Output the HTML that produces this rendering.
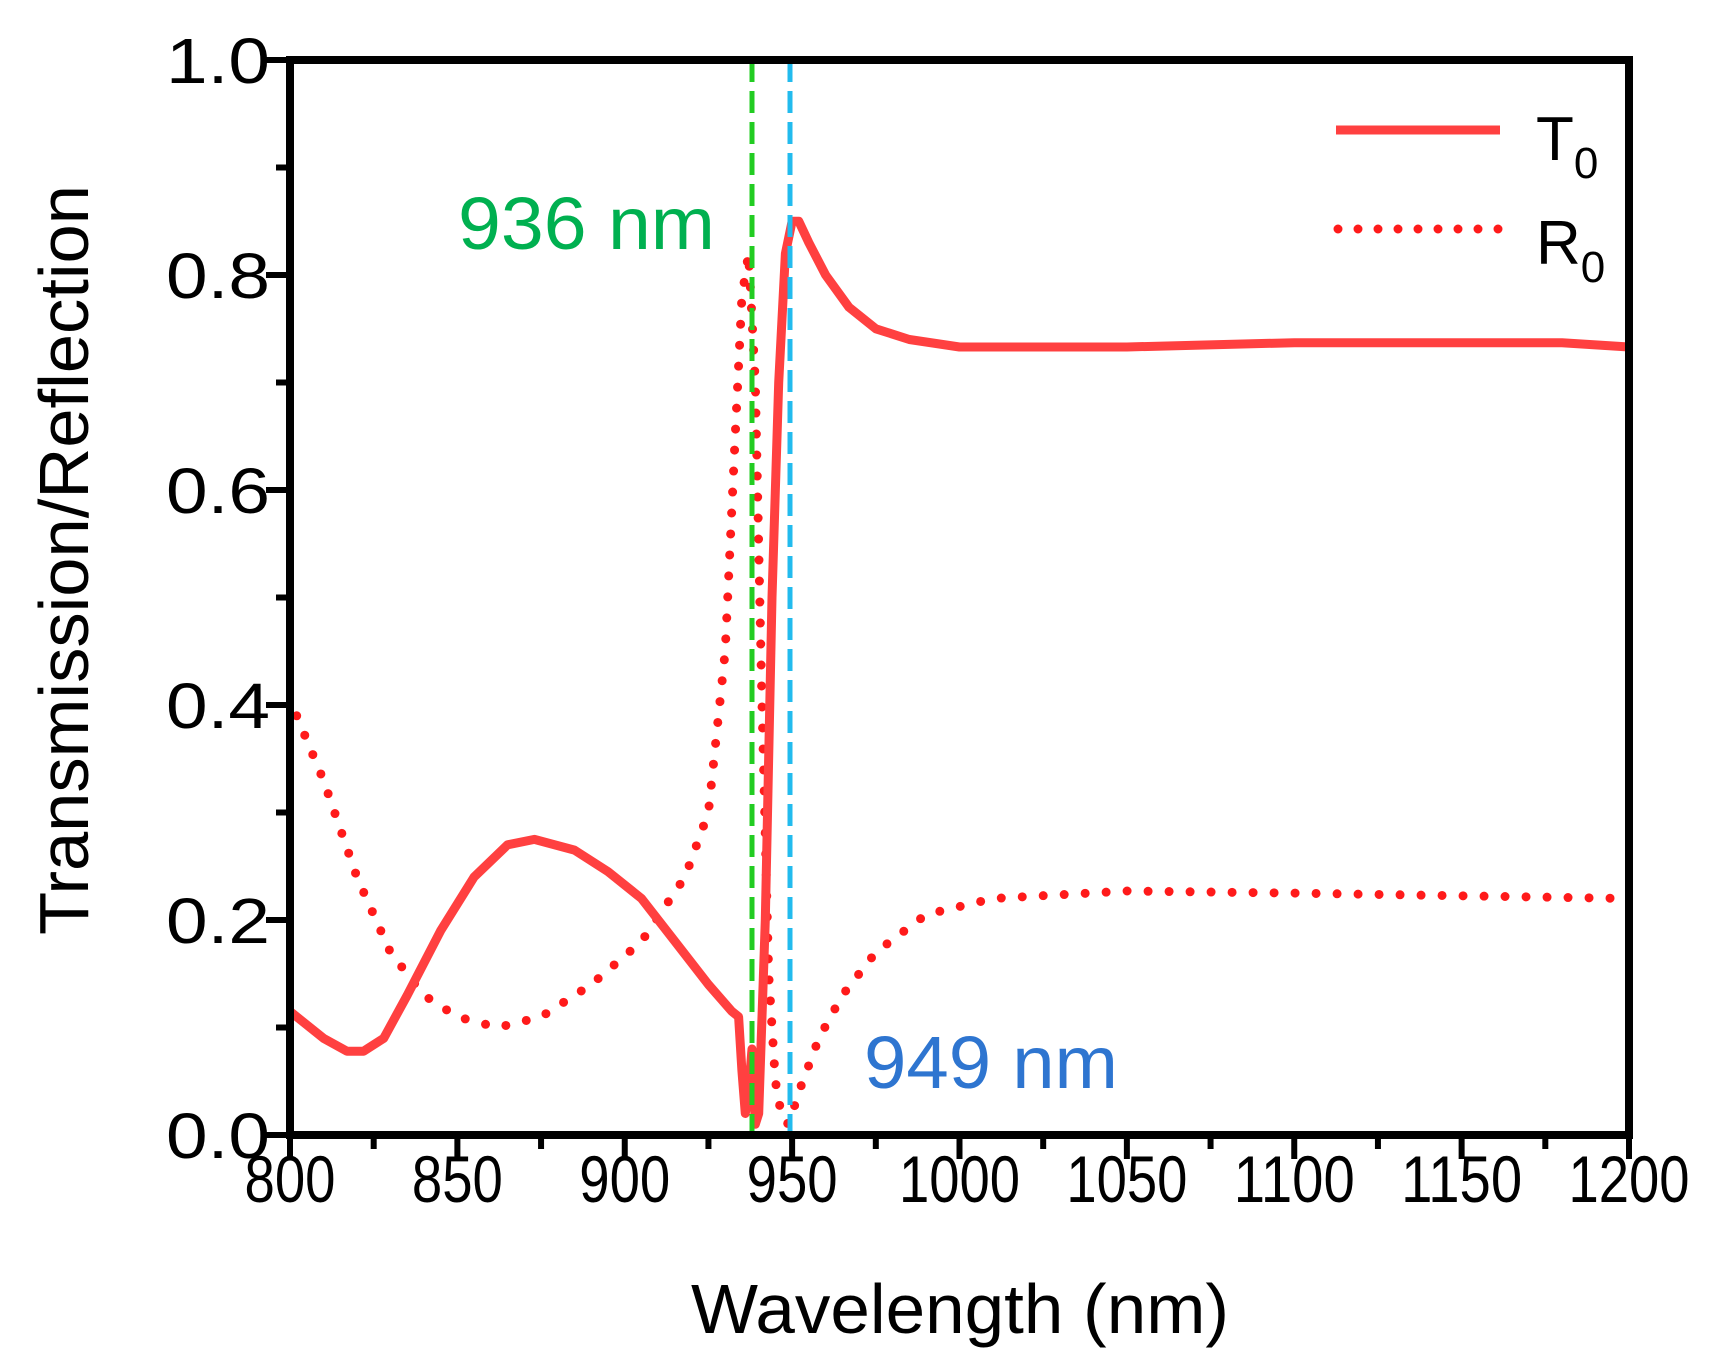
<!DOCTYPE html>
<html><head><meta charset="utf-8"><style>
html,body{margin:0;padding:0;background:#fff;}
svg{display:block;font-family:"Liberation Sans",Arial,sans-serif;}
</style></head><body>
<svg id="s" width="1722" height="1371" xmlns="http://www.w3.org/2000/svg">
<g id="plot"></g>
<g font-size="64" fill="#000" text-anchor="end">
<text x="270" y="1158" textLength="104" lengthAdjust="spacingAndGlyphs">0.0</text>
<text x="270" y="943" textLength="104" lengthAdjust="spacingAndGlyphs">0.2</text>
<text x="270" y="728" textLength="104" lengthAdjust="spacingAndGlyphs">0.4</text>
<text x="270" y="513" textLength="104" lengthAdjust="spacingAndGlyphs">0.6</text>
<text x="270" y="298" textLength="104" lengthAdjust="spacingAndGlyphs">0.8</text>
<text x="270" y="83" textLength="104" lengthAdjust="spacingAndGlyphs">1.0</text>
</g>
<g font-size="66" fill="#000" text-anchor="middle" id="xl"></g>
<text x="960" y="1333" font-size="70" text-anchor="middle" textLength="538" lengthAdjust="spacingAndGlyphs">Wavelength (nm)</text>
<text transform="translate(88,560) rotate(-90)" font-size="70" text-anchor="middle" textLength="750" lengthAdjust="spacingAndGlyphs">Transmission/Reflection</text>
<text x="458" y="249" font-size="74" fill="#00b050" textLength="257" lengthAdjust="spacingAndGlyphs">936 nm</text>
<text x="864" y="1088" font-size="74" fill="#2e75d0" textLength="254" lengthAdjust="spacingAndGlyphs">949 nm</text>
<line x1="1336" y1="130" x2="1500" y2="130" stroke="#ff4040" stroke-width="9"/>
<line x1="1338" y1="229" x2="1500" y2="229" stroke="#ff1a1a" stroke-width="9" stroke-linecap="round" stroke-dasharray="0 20"/>
<text x="1536" y="160" font-size="62">T<tspan font-size="44" dy="18">0</tspan></text>
<text x="1536" y="264" font-size="62">R<tspan font-size="44" dy="18">0</tspan></text>
</svg>
<script>
var X=function(l){return 290+(l-800)*3.3475},Y=function(v){return 1135-v*1075};
var T=[[800,.115],[810,.09],[817,.078],[822,.078],[828,.09],[835,.13],[845,.19],[855,.24],[865,.27],[873,.275],[885,.265],[895,.245],[905,.22],[915,.18],[925,.14],[932,.115],[934,.11],[935,.06],[936,.02],[937,.04],[938,.08],[939,.01],[940,.02],[942,.2],[944,.5],[946,.7],[948,.82],[950,.85],[952,.85],[955,.83],[960,.8],[967,.77],[975,.75],[985,.74],[1000,.733],[1050,.733],[1100,.737],[1180,.737],[1200,.733]];
var R=[[802,.39],[810,.33],[820,.24],[830,.17],[840,.13],[850,.11],[862,.1],[875,.11],[890,.14],[905,.18],[918,.24],[925,.3],[930,.45],[933,.65],[935,.78],[937,.82],[939,.7],[941,.4],[943,.15],[945,.05],[947,.015],[949,.01],[952,.04],[958,.09],[965,.13],[975,.17],[990,.205],[1010,.22],[1050,.227],[1100,.225],[1200,.22]];
function P(d){return d.map(function(p,i){return(i?'L':'M')+X(p[0]).toFixed(1)+' '+Y(p[1]).toFixed(1)}).join('')}
var h='';
h+='<path d="'+P(R)+'" fill="none" stroke="#ff1a1a" stroke-width="9" stroke-linecap="round" stroke-dasharray="0 21"/>';
h+='<path d="'+P(T)+'" fill="none" stroke="#ff4040" stroke-width="9" stroke-linejoin="round"/>';
h+='<line x1="752" y1="60" x2="752" y2="1135" stroke="#22cc22" stroke-width="5" stroke-dasharray="22 9"/>';
h+='<line x1="790" y1="60" x2="790" y2="1135" stroke="#22bbee" stroke-width="5" stroke-dasharray="22 9"/>';
h+='<rect x="290" y="60" width="1339" height="1075" fill="none" stroke="#000" stroke-width="8"/>';
for(var i=0;i<=16;i++){var x=290+i*1339/16;var L=i%2?10:20;h+='<line x1="'+x+'" y1="1135" x2="'+x+'" y2="'+(1139+L)+'" stroke="#000" stroke-width="6"/>';}
for(var j=0;j<=10;j++){var y=1135-j*107.5;var L=j%2?10:20;h+='<line x1="'+(286-L)+'" y1="'+y+'" x2="290" y2="'+y+'" stroke="#000" stroke-width="6"/>';}
document.getElementById('plot').innerHTML=h;
var xl='';for(var k=0;k<=8;k++){var t=800+k*50;var w=t>=1000?121:91;xl+='<text x="'+(290+k*1339/8)+'" y="1202" textLength="'+w+'" lengthAdjust="spacingAndGlyphs">'+t+'</text>';}
document.getElementById('xl').innerHTML=xl;
</script>
</body></html>
